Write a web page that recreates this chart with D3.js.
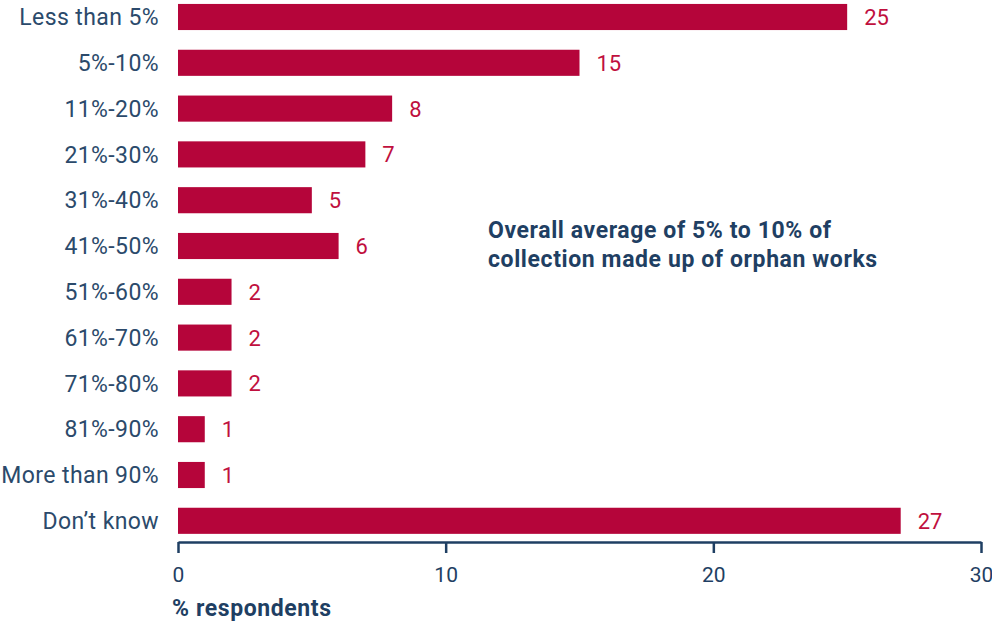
<!DOCTYPE html>
<html><head><meta charset="utf-8">
<script src="https://cdn.jsdelivr.net/npm/d3@7"></script>
<style>
body{margin:0;background:#fff;}
svg{display:block;font-family:Roboto, "Noto Sans", sans-serif;}
</style></head>
<body><svg id="chart" width="992" height="622"></svg>
<script>
const categories = ["Less than 5%","5%-10%","11%-20%","21%-30%","31%-40%","41%-50%","51%-60%","61%-70%","71%-80%","81%-90%","More than 90%","Don\u2019t know"];
const values = [25,15,8,7,5,6,2,2,2,1,1,27];
const ticks = [0,10,20,30];
const annotation = ["Overall average of 5% to 10% of","collection made up of orphan works"];
const axisTitle = "% respondents";

const barColor = "#b5053a", navy = "#1f3f63", labelColor = "#2b4a6b";
const svg = d3.select("#chart");
const x = d3.scaleLinear().domain([0,30]).range([178,981]);
const step = 45.8;
const y = d3.scaleBand().domain(categories).range([17-step/2, 17-step/2+12*step]).paddingInner(0.43).paddingOuter(0.215);

svg.selectAll("rect.bar").data(values).join("rect")
  .attr("x", x(0)).attr("y",(d,i)=>y(categories[i]))
  .attr("width", d=>x(d)-x(0)).attr("height", y.bandwidth())
  .attr("fill", barColor);

svg.selectAll("text.val").data(values).join("text")
  .attr("x", d=>x(d)+17).attr("y",(d,i)=>y(categories[i])+y.bandwidth()/2)
  .attr("dy","0.36em").attr("font-size",22).attr("fill","#c0103e").text(d=>d);

svg.selectAll("text.cat").data(categories).join("text")
  .attr("x",159).attr("y",d=>y(d)+y.bandwidth()/2).attr("dy","0.36em")
  .attr("text-anchor","end").attr("font-size",23).attr("letter-spacing","0.4px")
  .attr("fill",labelColor).text(d=>d);

const axis = svg.append("g").attr("transform","translate(0,542)")
  .call(d3.axisBottom(x).tickValues(ticks).tickSize(11).tickSizeOuter(0).tickPadding(14));
axis.select(".domain").attr("stroke",navy).attr("stroke-width",2.5);
axis.selectAll(".tick line").attr("stroke",navy).attr("stroke-width",2.5);
axis.selectAll(".tick text").attr("font-size",21).attr("fill",navy).attr("font-family","Roboto, sans-serif");

svg.append("text").attr("x",172).attr("y",616).attr("font-size",23).attr("font-weight","bold")
  .attr("letter-spacing","0.6px").attr("fill",navy).text(axisTitle);

svg.append("text").attr("x",488).attr("y",238).attr("font-size",23).attr("font-weight","bold")
  .attr("letter-spacing","0.6px").attr("fill",navy).selectAll("tspan").data(annotation).join("tspan")
  .attr("x",488).attr("dy",(d,i)=>i?29:0).text(d=>d);
</script></body></html>
